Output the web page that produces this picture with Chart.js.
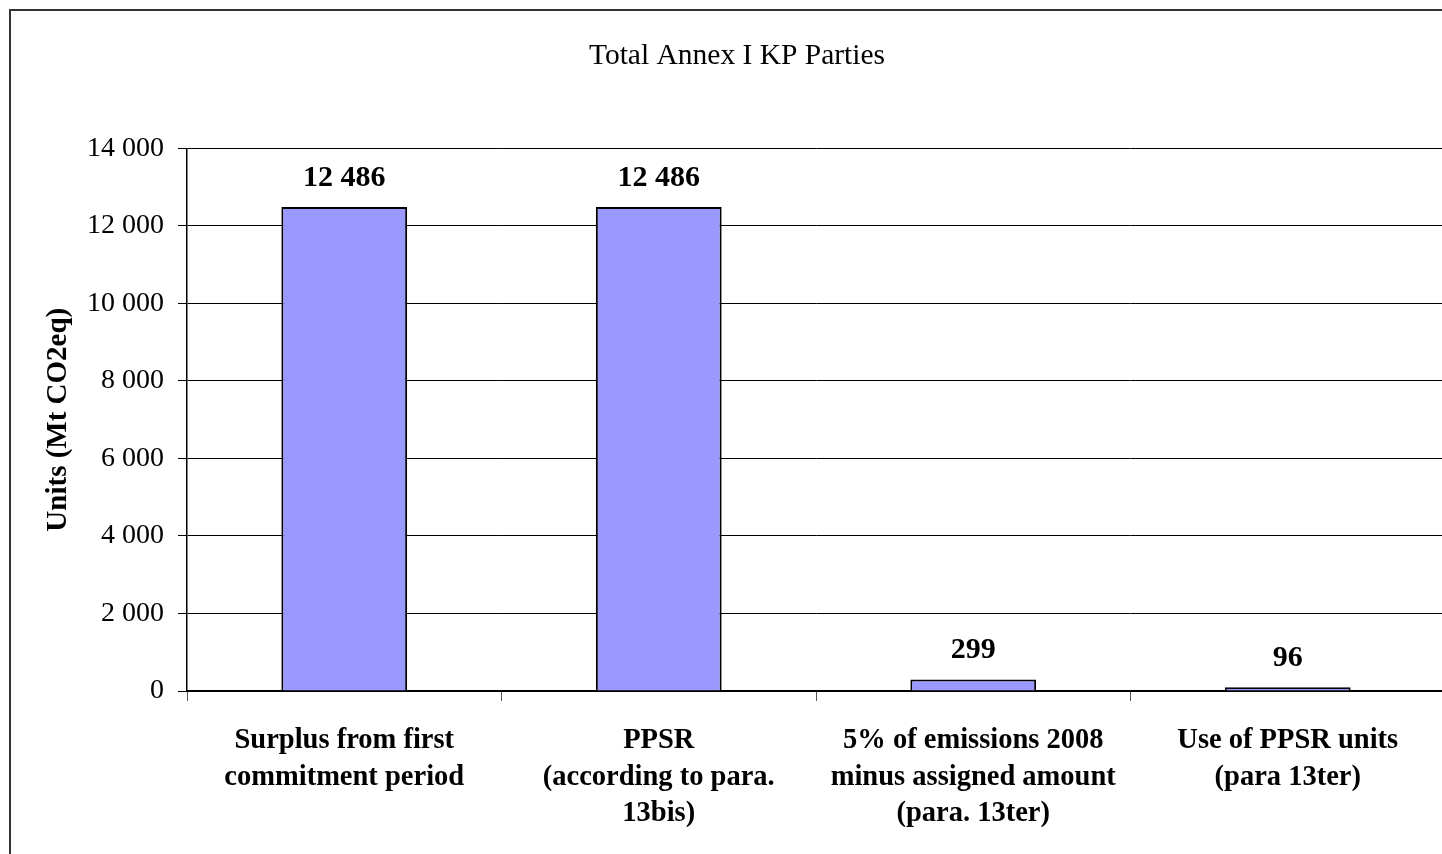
<!DOCTYPE html>
<html>
<head>
<meta charset="utf-8">
<script src="https://cdn.jsdelivr.net/npm/chart.js@4"></script>
<style>
  html, body { margin: 0; padding: 0; background: #fff; overflow: hidden; }
  canvas { display: block; }
</style>
</head>
<body>
<canvas id="chart" width="1474" height="854"></canvas>
<script>
// data
const categories = [
  ['Surplus from first', 'commitment period'],
  ['PPSR', '(according to para.', '13bis)'],
  ['5% of emissions 2008', 'minus assigned amount', '(para. 13ter)'],
  ['Use of PPSR units', '(para 13ter)']
];
const unitsValues = [12486, 12486, 299, 96];
const yTicks = [0, 2000, 4000, 6000, 8000, 10000, 12000, 14000];

const serif = "'Liberation Serif', 'Times New Roman', serif";

// 12486 -> "12 486"
const fmt = (v) => String(v).replace(/\B(?=(\d{3})+(?!\d))/g, ' ');

// white background + outer frame (cropped on right/bottom like the original)
const framePlugin = {
  id: 'frame',
  beforeDraw(chart) {
    const ctx = chart.ctx;
    ctx.save();
    ctx.fillStyle = '#fff';
    ctx.fillRect(0, 0, chart.width, chart.height);
    ctx.restore();
  },
  afterDraw(chart) {
    const ctx = chart.ctx;
    ctx.save();
    ctx.strokeStyle = '#333';
    ctx.lineWidth = 2;
    ctx.beginPath();
    ctx.moveTo(10, chart.height + 20);
    ctx.lineTo(10, 10);
    ctx.lineTo(chart.width - 9, 10);
    ctx.lineTo(chart.width - 9, chart.height + 20);
    ctx.stroke();
    ctx.restore();
  }
};

// value labels above each bar
const valueLabels = {
  id: 'valueLabels',
  afterDatasetsDraw(chart) {
    const ctx = chart.ctx;
    const meta = chart.getDatasetMeta(0);
    ctx.save();
    ctx.font = 'bold 30px ' + serif;
    ctx.fillStyle = '#000';
    ctx.textAlign = 'center';
    ctx.textBaseline = 'middle';
    meta.data.forEach((bar, i) => {
      ctx.fillText(fmt(unitsValues[i]), bar.x, bar.y - 29);
    });
    ctx.restore();
  }
};

new Chart(document.getElementById('chart'), {
  type: 'bar',
  data: {
    labels: categories,
    datasets: [{
      label: 'Units',
      data: unitsValues,
      backgroundColor: '#9999FF',
      borderColor: '#000',
      borderWidth: 2,
      barPercentage: 0.4,
      categoryPercentage: 1
    }]
  },
  options: {
    responsive: false,
    animation: false,
    layout: { padding: { left: 29, right: 29, top: 0, bottom: 0 } },
    plugins: {
      legend: { display: false },
      tooltip: { enabled: false },
      title: {
        display: true,
        text: 'Total Annex I KP Parties',
        color: '#000',
        font: { family: serif, size: 29.5, weight: 'normal' },
        padding: { top: 39, bottom: 74 }
      }
    },
    scales: {
      x: {
        afterFit: (s) => { s.height = 163; },
        border: { color: '#000', width: 1.5 },
        grid: { drawOnChartArea: false, color: '#555', tickLength: 10, offset: true },
        ticks: {
          color: '#000',
          padding: 21,
          maxRotation: 0,
          autoSkip: false,
          font: { family: serif, size: 28.5, weight: 'bold', lineHeight: 1.29 }
        }
      },
      y: {
        min: 0,
        max: 14000,
        afterFit: (s) => { s.width = 158; },
        afterBuildTicks: (s) => { s.ticks = yTicks.map(v => ({ value: v })); },
        border: { color: '#000', width: 1.5 },
        grid: { color: '#000', lineWidth: 1, tickLength: 9 },
        ticks: {
          color: '#000',
          padding: 14,
          font: { family: serif, size: 28 },
          callback: (v) => fmt(v)
        },
        title: {
          display: true,
          text: 'Units (Mt CO2eq)',
          color: '#000',
          font: { family: serif, size: 29, weight: 'bold' },
          padding: { top: 12, bottom: 0 }
        }
      }
    }
  },
  plugins: [framePlugin, valueLabels]
});
</script>
</body>
</html>
